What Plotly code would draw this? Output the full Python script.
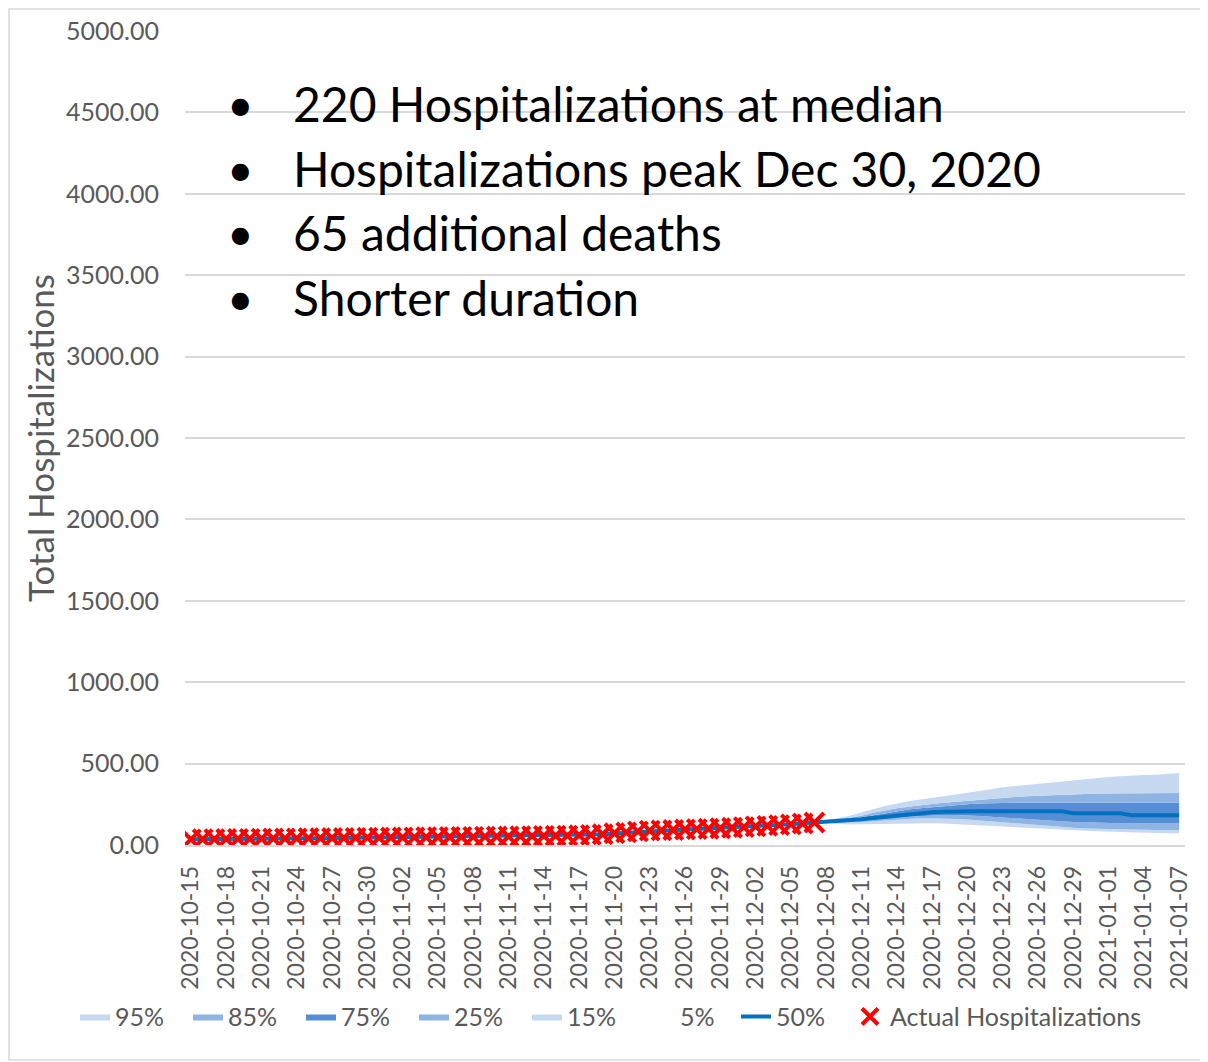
import pandas as pd
import plotly.graph_objects as go

# ---------------- data ----------------
dates = [d.strftime("%Y-%m-%d") for d in pd.date_range("2020-10-15", "2021-01-07", freq="D")]
actual_dates = dates[:54]          # 2020-10-15 .. 2020-12-07
forecast_dates = dates[53:]        # 2020-12-07 .. 2021-01-07

actual = [35, 36, 36, 37, 38, 38, 39, 40, 40, 41, 42, 42, 43, 43, 44, 45,
          45, 46, 46, 47, 48, 48, 49, 50, 50, 51, 52, 53, 54, 55,
          56, 57, 58, 60, 62, 66, 72, 78, 84, 88,
          90, 92, 95, 98, 100, 103, 106, 110, 114, 118, 122, 127, 132, 138]

median = [35, 35, 36, 37, 37, 38, 39, 39, 40, 41, 41, 42, 43, 43, 44, 45,
          45, 46, 47, 47, 48, 49, 49, 50, 51, 51, 52, 53, 54, 55,
          56, 57, 59, 61, 63, 66, 70, 75, 80, 85,
          89, 92, 95, 98, 101, 104, 107, 110, 114, 118, 123, 128, 133,
          138, 141, 144, 150, 158, 166, 174, 182, 190, 196, 201, 205,
          208, 208, 208, 208, 208, 208, 208, 208, 208, 208,
          195, 195, 195, 195, 195,
          182, 182, 182, 182, 182]

p95 = [138, 150, 165, 180, 198, 220, 240, 256, 268, 280, 292, 300, 310, 320, 330, 342,
       355, 362, 370, 375, 385, 392, 395, 405, 412, 418, 422, 428, 430, 432, 436, 442]
p85 = [138, 143, 155, 166, 180, 198, 212, 225, 235, 245, 252, 260, 266, 272, 278, 285,
       292, 297, 300, 302, 306, 310, 312, 314, 316, 317, 318, 319, 320, 320, 320, 320]
p75 = [138, 141, 148, 158, 170, 185, 195, 208, 218, 226, 233, 240, 246, 251, 255, 258,
       260, 260, 260, 260, 260, 260, 260, 260, 260, 260, 260, 260, 260, 260, 260, 260]
p25 = [138, 139, 140, 143, 148, 153, 160, 167, 173, 178, 182, 184, 184, 182, 178, 173,
       170, 165, 160, 155, 150, 145, 142, 140, 137, 135, 134, 133, 133, 132, 132, 132]
p15 = [138, 137, 137, 138, 141, 146, 152, 158, 161, 164, 164, 164, 160, 156, 150, 145,
       140, 133, 127, 122, 117, 112, 106, 102, 100, 96, 94, 92, 92, 91, 90, 90]
p5 = [138, 133, 128, 126, 127, 128, 131, 133, 134, 134, 134, 132, 128, 125, 122, 118,
      114, 110, 106, 102, 99, 95, 90, 88, 85, 82, 78, 76, 74, 73, 72, 72]

bullets = ["220 Hospitalizations at median",
           "Hospitalizations peak Dec 30, 2020",
           "65 additional deaths",
           "Shorter duration"]

y_ticks = list(range(0, 5001, 500))
x_ticks = dates[::3]

# ---------------- style ----------------
LIGHT = "#C6D9F0"
MED = "#8EB4E3"
DARK = "#558ED5"
LINE = "#0070C0"
GRAY_TXT = "#595959"
GRID = "#D9D9D9"
FONT = "Lato"

fig = go.Figure()

band_defs = [
    ("5%", p5, None, 6),
    ("15%", p15, LIGHT, 5),
    ("25%", p25, MED, 4),
    ("75%", p75, DARK, 3),
    ("85%", p85, MED, 2),
    ("95%", p95, LIGHT, 1),
]
for name, vals, col, rank in band_defs:
    if col is None:
        fig.add_trace(go.Scatter(x=forecast_dates, y=vals, name=name, mode="lines",
                                 line=dict(width=0, color="rgba(0,0,0,0)"),
                                 legendrank=rank, hoverinfo="skip"))
    else:
        fig.add_trace(go.Scatter(x=forecast_dates, y=vals, name=name, mode="lines",
                                 line=dict(width=0, color=col), fill="tonexty",
                                 fillcolor=col, legendrank=rank))

fig.add_trace(go.Scatter(x=dates, y=median, name="50%", mode="lines", legend="legend2",
                         line=dict(color=LINE, width=4), legendrank=7))
fig.add_trace(go.Scatter(x=actual_dates, y=actual, name="Actual Hospitalizations",
                         mode="markers", legend="legend3",
                         marker=dict(symbol="x-thin", size=19,
                                     line=dict(width=4, color="#FF0000")),
                         legendrank=8))

# bullet text
line_y = [0.911, 0.831, 0.752, 0.673]
for txt, yy in zip(bullets, line_y):
    fig.add_annotation(x=0.055, y=yy, xref="paper", yref="paper", text="•",
                       showarrow=False, xanchor="center", yanchor="middle",
                       font=dict(family=FONT, size=46, color="black"))
    fig.add_annotation(x=0.106, y=yy, xref="paper", yref="paper", text=txt,
                       showarrow=False, xanchor="left", yanchor="middle",
                       font=dict(family=FONT, size=48, color="black"))

# chart area border
fig.add_shape(type="rect", xref="paper", yref="paper",
              x0=-0.176, x1=1.020, y0=-0.264, y1=1.027,
              line=dict(color="#D9D9D9", width=1.5), fillcolor="rgba(0,0,0,0)", layer="below")

legend_common = dict(orientation="h", y=-0.211, xanchor="left", yanchor="middle",
                     font=dict(family=FONT, size=25, color=GRAY_TXT),
                     itemwidth=30, traceorder="normal", bgcolor="rgba(0,0,0,0)")

fig.update_layout(
    width=1200, height=1054,
    margin=dict(l=177, r=23, t=23, b=217, autoexpand=False),
    paper_bgcolor="white", plot_bgcolor="white",
    font=dict(family=FONT, color=GRAY_TXT),
    showlegend=True,
    legend=dict(x=-0.110, entrywidth=68, entrywidthmode="pixels", **legend_common),
    legend2=dict(x=0.551, **legend_common),
    legend3=dict(x=0.665, **legend_common),
    xaxis=dict(type="category", categoryorder="array", categoryarray=dates,
               range=[-0.5, len(dates) - 0.5], automargin=False,
               tickmode="array", tickvals=x_ticks, ticktext=x_ticks,
               tickangle=-90, tickfont=dict(family=FONT, size=23, color=GRAY_TXT),
               showgrid=False, showline=True, linecolor=GRID, linewidth=1.5,
               ticks="", ticklabelstandoff=10),
    yaxis=dict(range=[0, 5000], tickmode="array", tickvals=y_ticks, automargin=False,
               tickformat=".2f", tickfont=dict(family=FONT, size=25, color=GRAY_TXT),
               showgrid=True, gridcolor=GRID, gridwidth=1.5, zeroline=False,
               showline=False, ticks="", ticklabelstandoff=25,
               title=dict(text="Total Hospitalizations", standoff=0,
                          font=dict(family=FONT, size=35, color=GRAY_TXT))),
)

fig.write_html("out.html")
